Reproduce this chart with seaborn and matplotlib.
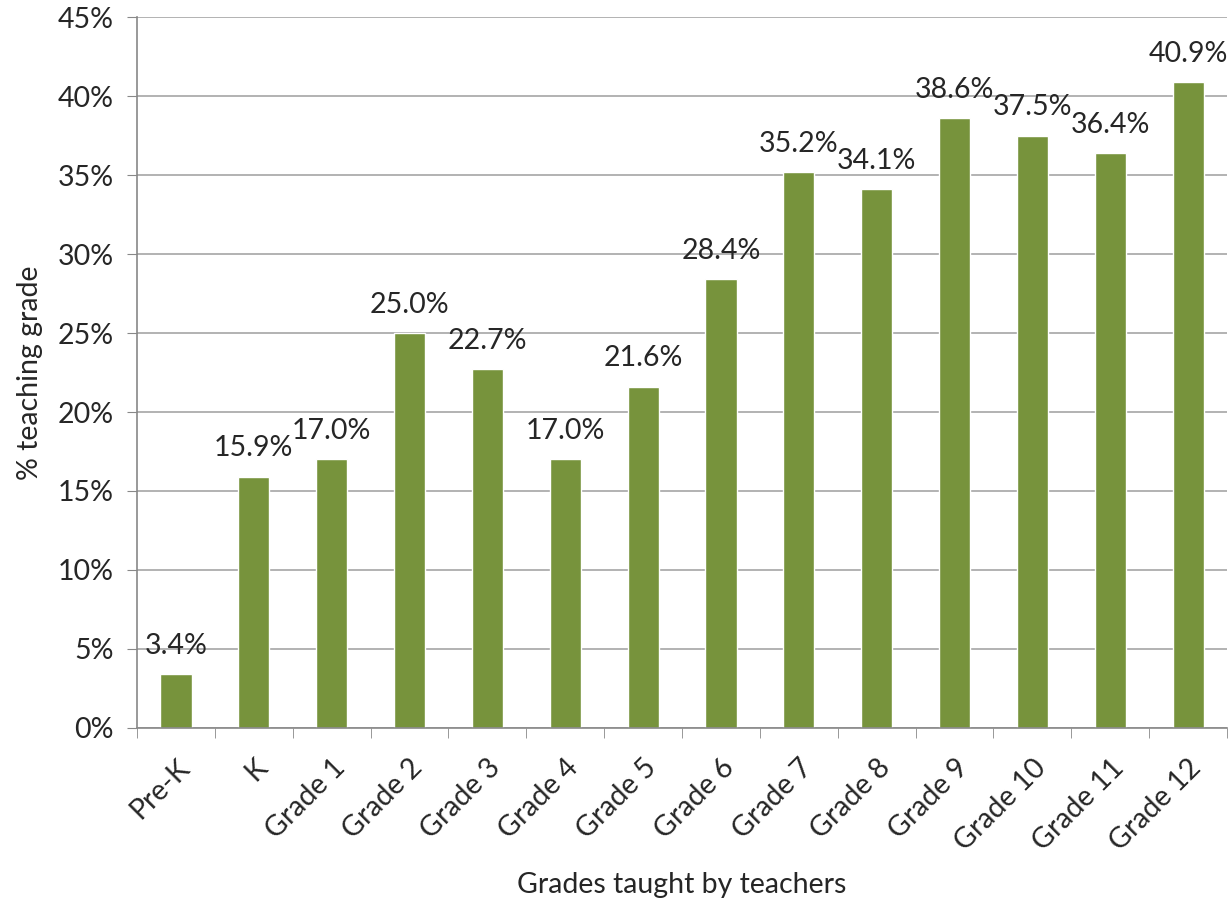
import numpy as np
import pandas as pd
import seaborn as sns
import matplotlib.pyplot as plt
from matplotlib.ticker import FixedLocator

# datos
grades = ['Pre-K', 'K', 'Grade 1', 'Grade 2', 'Grade 3', 'Grade 4', 'Grade 5',
          'Grade 6', 'Grade 7', 'Grade 8', 'Grade 9', 'Grade 10', 'Grade 11', 'Grade 12']
pct = [3.4, 15.9, 17.0, 25.0, 22.7, 17.0, 21.6, 28.4, 35.2, 34.1, 38.6, 37.5, 36.4, 40.9]
yticks = [0, 5, 10, 15, 20, 25, 30, 35, 40, 45]

data = pd.DataFrame({'grade': grades, 'pct': pct})

sns.set_style('white')
plt.rcParams['font.family'] = ['Lato', 'DejaVu Sans']
fs = 20.5
txt = '#262626'

fig = plt.figure(figsize=(12.31, 9.02), dpi=100)
ax = fig.add_axes([0.1113, 0.193, 0.8855, 0.788])

sns.barplot(data=data, x='grade', y='pct', color='#77933C', width=0.4,
            saturation=1, ax=ax)

ax.set_ylim(0, 45)
ax.set_xlim(-0.5, len(grades) - 0.5)
ax.set_yticks(yticks)
ax.set_yticklabels([f'{t}%' for t in yticks], fontsize=fs, color=txt)
ax.yaxis.grid(True, color='#A6A6A6', linewidth=1.2)
ax.set_axisbelow(True)

# etiquetas de valor
for i, v in enumerate(pct):
    ax.annotate(f'{v:.1f}%', (i, v), xytext=(0, 11), textcoords='offset points',
                ha='center', va='bottom', fontsize=fs, color=txt)

# eje x con marcas entre categorias
ax.set_xticks(range(len(grades)))
ax.set_xticklabels(grades, rotation=45, ha='right', rotation_mode='anchor',
                   fontsize=fs, color=txt)
ax.xaxis.set_minor_locator(FixedLocator(np.arange(-0.5, len(grades), 1)))
ax.tick_params(axis='x', which='major', length=0, pad=19)
ax.tick_params(axis='x', which='minor', length=7, color='#888888', bottom=True)
ax.tick_params(axis='y', length=7, color='#888888', left=True, pad=10)

sns.despine(ax=ax)
for s in ['left', 'bottom']:
    ax.spines[s].set_color('#888888')
    ax.spines[s].set_linewidth(1.2)

ax.set_xlabel('Grades taught by teachers', fontsize=fs, color=txt, labelpad=12)
ax.set_ylabel('% teaching grade', fontsize=fs, color=txt, labelpad=10)

fig.savefig('out.png', dpi=100)
